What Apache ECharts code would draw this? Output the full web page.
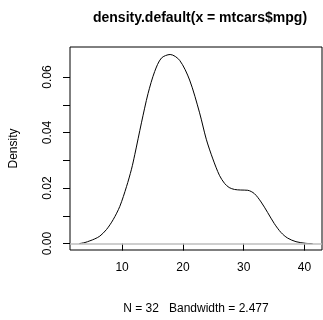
<!DOCTYPE html>
<html>
<head>
<meta charset="utf-8">
<script src="https://cdn.jsdelivr.net/npm/echarts@6/dist/echarts.min.js"></script>
<style>
html,body{margin:0;padding:0;background:#fff;}
#c{width:323px;height:320px;}
</style>
</head>
<body>
<div id="c"></div>
<script>
// Density curve
var xs = [2.97, 3.9, 4.7, 5.5, 6.34, 7.44, 8.52, 9.62, 10.72, 11.54, 12.08, 13.18, 14.26, 15.36, 16.46, 17.9, 19.46, 21.1, 22.74, 23.84, 24.92, 26.0, 26.84, 27.6, 28.48, 29.5, 30.66, 31.75, 32.85, 33.93, 35.03, 36.13, 37.21, 38.59, 40.2, 41.33];
var ys = [0.0000, 0.0004, 0.0010, 0.0017, 0.0027, 0.0051, 0.0086, 0.0134, 0.0205, 0.0268, 0.0320, 0.0435, 0.0540, 0.0620, 0.0668, 0.0681, 0.0660, 0.0589, 0.0471, 0.0376, 0.0305, 0.0246, 0.0217, 0.0202, 0.0195, 0.0193, 0.0192, 0.0180, 0.0150, 0.0112, 0.0072, 0.0040, 0.0020, 0.0007, 0.0001, 0.0000];
var xTicks = [10, 20, 30, 40];
var yTicks = [0, 0.01, 0.02, 0.03, 0.04, 0.05, 0.06];
var yLabels = [0, 0.02, 0.04, 0.06];
var titleText = 'density.default(x = mtcars$mpg)';
var xName = 'N = 32   Bandwidth = 2.477';
var yName = 'Density';

var data = xs.map(function (x, i) { return [x, ys[i]]; });
var chart = echarts.init(document.getElementById('c'), null, {renderer: 'canvas'});
var font = 'Liberation Sans, Arial, Helvetica, sans-serif';
chart.setOption({
  animation: false,
  backgroundColor: '#ffffff',
  textStyle: {fontFamily: font},
  title: {
    text: titleText,
    left: 195, top: 6, textAlign: 'center',
    textStyle: {fontFamily: font, fontSize: 14, fontWeight: 'bold', color: '#000'}
  },
  grid: {left: 70, top: 47, width: 252, height: 205, show: true, borderColor: '#000', borderWidth: 1, backgroundColor: 'transparent'},
  xAxis: {
    type: 'value', min: 1.43, max: 42.87,
    name: xName, nameLocation: 'middle', nameGap: 53,
    nameTextStyle: {fontFamily: font, fontSize: 12, color: '#000'},
    axisLine: {show: false},
    splitLine: {show: false},
    axisTick: {show: true, length: 7, inside: false, customValues: xTicks, lineStyle: {color: '#000'}},
    axisLabel: {customValues: xTicks, fontFamily: font, fontSize: 12, color: '#000', margin: 12}
  },
  yAxis: {
    type: 'value', min: -0.0023, max: 0.0708,
    name: yName, nameLocation: 'middle', nameGap: 50, nameRotate: 90,
    nameTextStyle: {fontFamily: font, fontSize: 12, color: '#000'},
    axisLine: {show: false},
    splitLine: {show: false},
    axisTick: {show: true, length: 7, inside: false, customValues: yTicks, lineStyle: {color: '#000'}},
    axisLabel: {customValues: yLabels, rotate: 90, fontFamily: font, fontSize: 12, color: '#000', margin: 16,
      formatter: function (v) { return v.toFixed(2); }}
  },
  series: [{
    type: 'line', data: data, smooth: 0.3, showSymbol: false, symbol: 'none',
    lineStyle: {color: '#000', width: 1},
    markLine: {
      silent: true, symbol: ['none', 'none'], label: {show: false},
      lineStyle: {color: '#bebebe', type: 'solid', width: 1.5},
      data: [{yAxis: 0}]
    },
    z: 3
  }]
});
</script>
</body>
</html>
